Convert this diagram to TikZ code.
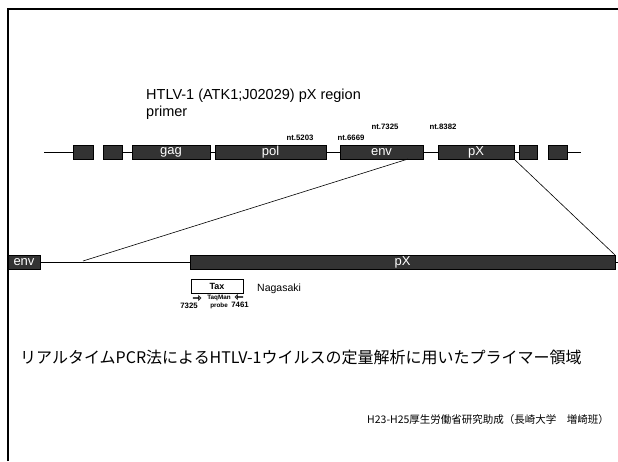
\documentclass[tikz,border=0pt]{standalone}
\usepackage{fontspec}
\setmainfont{Liberation Sans}
\newfontfamily\jp{Noto Sans CJK JP}
\usetikzlibrary{shapes.arrows,calc}
\begin{document}
\begin{tikzpicture}[x=1pt,y=-1pt,
  gbox/.style={draw=black,line width=0.6pt,fill=black!80,inner sep=0pt,outer sep=0pt,
    minimum height=14pt,text=white,font=\fontsize{13}{13}\selectfont},
  ntlab/.style={font=\bfseries\fontsize{7.8}{9}\selectfont,inner sep=0pt},
  gline/.style={line width=0.9pt},
  zline/.style={line width=0.6pt},
  parr/.style={single arrow,draw=black,fill=black!55,line width=0.4pt,minimum height=8pt,
    minimum width=5pt,single arrow head extend=1.2pt,inner sep=0pt,outer sep=0pt},
  small/.style={font=\bfseries\fontsize{6.3}{7}\selectfont,inner sep=0pt},
  num/.style={font=\bfseries\fontsize{7.8}{9}\selectfont,inner sep=0pt}]
\useasboundingbox (0,0) rectangle (618,461);
% frame
\draw[line width=2pt] (8,461) -- (8,9) -- (618,9);
% title
\node[anchor=base west,inner sep=0pt,font=\fontsize{14.5}{16}\selectfont] (t1) at (146,99) {HTLV-1 (ATK1;J02029) pX region};
\node[anchor=base west,inner sep=0pt,font=\fontsize{14.5}{16}\selectfont] (t2) at (146,116) {primer};
% top genome
\coordinate (L0) at (44,152);
\coordinate (L1) at (581,152);
\node[gbox,minimum width=20pt] (b1) at (83,152) {};
\node[gbox,minimum width=19pt] (b2) at (112.5,152) {};
\node[gbox,minimum width=78pt] (gag) at (171,152) {gag};
\node[gbox,minimum width=111pt] (pol) at (270.5,152) {pol};
\node[gbox,minimum width=83pt] (env) at (381.5,152) {env};
\node[gbox,minimum width=76pt] (px) at (476,152) {pX};
\node[gbox,minimum width=18pt] (b7) at (528,152) {};
\node[gbox,minimum width=19pt] (b8) at (557.5,152) {};
\draw[gline] (L0) -- (b1.west);
\draw[gline] (b2.east) -- (gag.west);
\draw[gline] (gag.east) -- (pol.west);
\draw[gline] (pol.east) -- (env.west);
\draw[gline] (env.east) -- (px.west);
\draw[gline] (px.east) -- (b7.west);
\draw[gline] (b8.east) -- (L1);
% nt labels
\node[ntlab] (n1) at (300,138) {nt.5203};
\node[ntlab] (n2) at (351,138) {nt.6669};
\node[ntlab] (n3) at (385,127) {nt.7325};
\node[ntlab] (n4) at (443,127) {nt.8382};
% lower bar
\node[gbox,minimum width=32pt] (env2) at (24,262) {env};
\node[gbox,minimum width=425pt] (px2) at (402.5,262) {pX};
\coordinate (R1) at (618,262);
\draw[gline] (env2.east) -- (px2.west);
\draw[gline] (px2.east) -- (R1);
% zoom lines
\coordinate (zA) at ($(env.south east)+(-15,0)$);
\coordinate (zB) at (83,261);
\draw[zline] (zA) -- (zB);
\draw[zline] (px.south east) -- (px2.north east);
% Tax
\node[draw=black,line width=0.6pt,fill=white,minimum width=52pt,minimum height=14pt,inner sep=0pt,
  font=\bfseries\fontsize{9}{10}\selectfont] (tax) at (217,286) {Tax};
\node[parr] (a1) at (197,298) {};
\node[parr,shape border rotate=180] (a2) at (239,297) {};
\node[small] (tq) at (219,298) {TaqMan};
\node[small] (pr) at (219,306) {probe};
\node[num] (p1) at (189,306) {7325};
\node[num] (p2) at (240,305) {7461};
\node[anchor=base west,inner sep=0pt,font=\fontsize{10.5}{12}\selectfont] (ng) at (257,291) {Nagasaki};
% Japanese texts
\node[anchor=base west,inner sep=0pt,font=\jp\fontsize{16}{18}\selectfont] (jp1) at (20,363)
  {リアルタイムPCR法によるHTLV-1ウイルスの定量解析に用いたプライマー領域};
\node[anchor=base west,inner sep=0pt,font=\jp\fontsize{10.5}{12}\selectfont] (jp2) at (367,423)
  {H23-H25厚生労働省研究助成（長崎大学　増崎班）};
\end{tikzpicture}
\end{document}
